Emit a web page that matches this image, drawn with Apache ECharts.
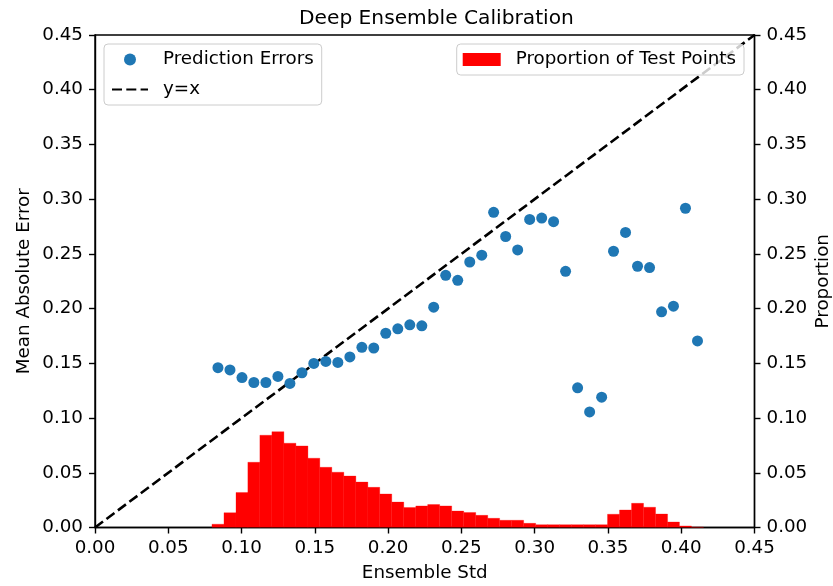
<!DOCTYPE html>
<html>
<head>
<meta charset="utf-8">
<script src="https://cdn.jsdelivr.net/npm/echarts@6/dist/echarts.min.js"></script>
<style>
html,body{margin:0;padding:0;background:#fff;}
#chart{width:833px;height:586px;}
</style>
</head>
<body>
<div id="chart"></div>
<script>
// ---- data ----
var stdBins = [0.0839,0.0921,0.1003,0.1084,0.1166,0.1248,0.1330,0.1412,0.1493,0.1575,
  0.1657,0.1739,0.1821,0.1902,0.1984,0.2066,0.2148,0.2230,0.2311,0.2393,
  0.2475,0.2557,0.2639,0.2720,0.2802,0.2884,0.2966,0.3048,0.3129,0.3211,
  0.3293,0.3375,0.3457,0.3538,0.3620,0.3702,0.3784,0.3866,0.3947,0.4029,0.4111];
var meanAbsError = [0.146,0.144,0.137,0.1325,0.1325,0.138,0.1316,0.1414,0.1499,0.1517,
  0.1508,0.1558,0.1646,0.164,0.1775,0.1815,0.1852,0.1843,0.2013,0.2304,
  0.2258,0.2426,0.2488,0.288,0.2659,0.2536,0.2815,0.2827,0.2794,0.2341,
  0.1276,0.1056,0.1191,0.2524,0.2696,0.2387,0.2375,0.1971,0.2022,0.2917,0.1705];
var proportion = [0.003,0.0135,0.032,0.0596,0.0843,0.0876,0.077,0.0745,0.0633,0.055,
  0.0505,0.047,0.0415,0.0367,0.0306,0.0232,0.0183,0.0197,0.021,0.0197,
  0.015,0.0137,0.0111,0.0084,0.0066,0.0066,0.0038,0.0026,0.0026,0.0026,
  0.0026,0.0026,0.0026,0.0121,0.016,0.0221,0.0185,0.0123,0.005,0.0014,0.0004];
var identityLine = [0, 0.45];
var axisTicks = [0, 0.45, 0.05];
var binWidth = 0.00818;

// ---- chart ----
var FONT = 'DejaVu Sans';
var FS = 18.3;
var chart = echarts.init(document.getElementById('chart'), null, {renderer:'canvas'});

function fmt(v){ return v.toFixed(2); }

var axisCommon = {
  type: 'value', min: axisTicks[0], max: axisTicks[1], interval: axisTicks[2],
  splitLine: {show:false},
  axisLine: {show:true, onZero:false, lineStyle:{color:'#000', width:1.4}},
  axisTick: {show:true, inside:false, length:6, lineStyle:{color:'#000', width:1.4}},
  axisLabel: {formatter: fmt, color:'#000', fontFamily:FONT, fontSize:FS, margin:12},
  nameTextStyle: {color:'#000', fontFamily:FONT, fontSize:FS},
  nameLocation: 'middle',
  nameMoveOverlap: false
};

var option = {
  backgroundColor: '#fff',
  animation: false,
  title: {
    text: 'Deep Ensemble Calibration',
    left: 294, top: 4,
    textStyle: {fontFamily:FONT, fontSize:20.2, fontWeight:'normal', color:'#000'}
  },
  grid: {left:95, right:78.5, top:35, bottom:58.5, show:true, borderColor:'#000', borderWidth:1.4,
         backgroundColor:'transparent', containLabel:false, outerBoundsMode:'none'},
  legend: [
    {
      data: ['Prediction Errors', {name:'y=x'}],
      orient: 'vertical', left: 104, top: 44,
      itemWidth: 36, itemHeight: 12, itemGap: 9,
      padding: [5, 8, 5, 7],
      backgroundColor: 'rgba(255,255,255,0.8)', borderColor: '#cccccc', borderWidth: 1, borderRadius: 4,
      textStyle: {fontFamily:FONT, fontSize:FS, color:'#000', lineHeight:21, padding:[0,0,0,10]},
      selectedMode: false
    },
    {
      data: [{name:'Proportion of Test Points', icon:'rect'}],
      orient: 'vertical', right: 89, top: 44,
      itemWidth: 38, itemHeight: 13, itemGap: 9,
      padding: [5, 8, 5, 6],
      backgroundColor: 'rgba(255,255,255,0.8)', borderColor: '#cccccc', borderWidth: 1, borderRadius: 4,
      textStyle: {fontFamily:FONT, fontSize:FS, color:'#000', lineHeight:21, padding:[0,0,0,10]},
      selectedMode: false
    }
  ],
  xAxis: [Object.assign({}, axisCommon, {position:'bottom', name:'Ensemble Std', nameGap:37})],
  yAxis: [
    Object.assign({}, axisCommon, {position:'left', name:'Mean Absolute Error', nameGap:62}),
    Object.assign({}, axisCommon, {position:'right', name:'Proportion', nameGap:60, nameRotate:90})
  ],
  series: [
    {
      name: 'Prediction Errors', type: 'scatter',
      xAxisIndex: 0, yAxisIndex: 0,
      symbol: 'circle', symbolSize: 11,
      itemStyle: {color:'#1f77b4', opacity:1},
      data: stdBins.map(function(x,i){ return [x, meanAbsError[i]]; }),
      z: 3
    },
    {
      name: 'y=x', type: 'line',
      xAxisIndex: 0, yAxisIndex: 0,
      symbol: 'none', showSymbol: false,
      lineStyle: {color:'#000', width:2.6, type:[10, 4.3]},
      itemStyle: {color:'#000', opacity:0},
      data: identityLine.map(function(v){ return [v, v]; }),
      z: 2
    },
    {
      name: 'Proportion of Test Points', type: 'custom',
      xAxisIndex: 0, yAxisIndex: 1,
      clip: true,
      itemStyle: {color:'#ff0000'},
      renderItem: function(params, api){
        var c = api.value(0), h = api.value(1);
        var p0 = api.coord([c - binWidth/2, h]);
        var p1 = api.coord([c + binWidth/2, 0]);
        return {
          type: 'rect',
          shape: {x: p0[0], y: p0[1], width: p1[0]-p0[0], height: p1[1]-p0[1]},
          style: {fill:'#ff0000', stroke:'#ff0000', lineWidth:0.3}
        };
      },
      encode: {x:0, y:1},
      data: stdBins.map(function(x,i){ return [x, proportion[i]]; }),
      z: 4
    }
  ]
};
chart.setOption(option);
</script>
</body>
</html>
